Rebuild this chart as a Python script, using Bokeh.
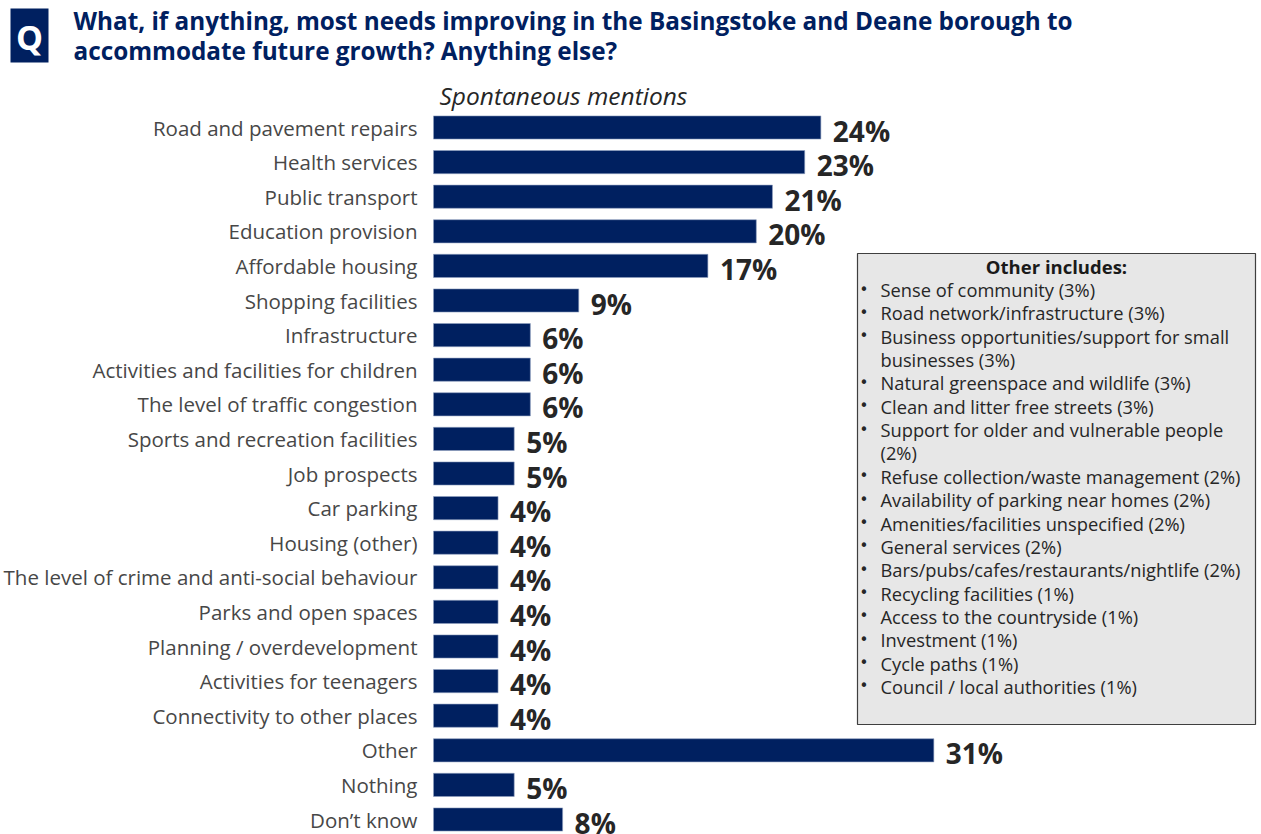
from bokeh.plotting import figure
from bokeh.models import Range1d, Label
from bokeh.core.properties import value
from bokeh.embed import file_html
from bokeh.resources import INLINE

# ---------------- data ----------------
categories = [
    "Road and pavement repairs", "Health services", "Public transport",
    "Education provision", "Affordable housing", "Shopping facilities",
    "Infrastructure", "Activities and facilities for children",
    "The level of traffic congestion", "Sports and recreation facilities",
    "Job prospects", "Car parking", "Housing (other)",
    "The level of crime and anti-social behaviour", "Parks and open spaces",
    "Planning / overdevelopment", "Activities for teenagers",
    "Connectivity to other places", "Other", "Nothing", "Don\u2019t know",
]
values = [24, 23, 21, 20, 17, 9, 6, 6, 6, 5, 5, 4, 4, 4, 4, 4, 4, 4, 31, 5, 8]

other_items = [
    ["Sense of community (3%)"],
    ["Road network/infrastructure (3%)"],
    ["Business opportunities/support  for small", "businesses (3%)"],
    ["Natural greenspace and wildlife (3%)"],
    ["Clean and litter free streets (3%)"],
    ["Support for older and vulnerable people", "(2%)"],
    ["Refuse collection/waste management (2%)"],
    ["Availability of parking near homes (2%)"],
    ["Amenities/facilities unspecified (2%)"],
    ["General services (2%)"],
    ["Bars/pubs/cafes/restaurants/nightlife  (2%)"],
    ["Recycling facilities (1%)"],
    ["Access to the countryside (1%)"],
    ["Investment (1%)"],
    ["Cycle paths (1%)"],
    ["Council / local authorities (1%)"],
]

title_lines = [
    "What, if anything, most needs improving in the Basingstoke and Deane borough to",
    "accommodate future growth? Anything else?",
]
subtitle = "Spontaneous mentions"
other_header = "Other includes:"

# ---------------- layout ----------------
W, H = 1261, 834
NAVY = "#002060"
FONT = "Open Sans"

X0_PX = 433.0     # canvas x of the 0% line
PX_PER = 16.14    # pixels per percent
ROW0 = 127.0      # canvas y of first row centre
ROW_STEP = 34.6

x_start = -X0_PX / PX_PER
x_end = x_start + W / PX_PER
y_top = -ROW0 / ROW_STEP
y_bottom = y_top + H / ROW_STEP


def X(cx):
    return x_start + cx / PX_PER


def Y(cy):
    return y_top + cy / ROW_STEP


p = figure(width=W, height=H, output_backend="svg", toolbar_location=None,
           x_range=Range1d(x_start, x_end), y_range=Range1d(y_bottom, y_top),
           min_border=0, min_border_left=0, min_border_right=0,
           min_border_top=0, min_border_bottom=0)
p.axis.visible = False
p.grid.visible = False
p.outline_line_color = None
p.background_fill_color = "white"
p.border_fill_color = "white"

rows = list(range(len(categories)))

# bars
p.hbar(y=rows, left=0, right=values, height=0.67, fill_color=NAVY,
       line_color="#8fa0c0", line_width=0.6)

# category labels
p.text(x=[X(417)] * len(rows), y=rows, text=categories, text_align="right",
       text_baseline="middle", text_font=value(FONT), text_font_size="20.5px",
       text_color="#474747")

# value labels
p.text(x=values, y=rows, text=[f"{v}%" for v in values], x_offset=12, y_offset=3,
       text_align="left", text_baseline="middle", text_font=value(FONT),
       text_font_size="28px", text_font_style="bold", text_color="#262626")

# Q box
p.quad(left=X(10), right=X(48), top=Y(8), bottom=Y(62), fill_color=NAVY, line_color=None)
p.add_layout(Label(x=X(29), y=Y(36), text="Q", text_align="center", text_baseline="middle",
                   text_font=FONT, text_font_size="34px", text_font_style="bold",
                   text_color="white"))

# title
for i, t in enumerate(title_lines):
    p.add_layout(Label(x=X(73), y=Y(20 + 30 * i), text=t, text_align="left",
                       text_baseline="middle", text_font=FONT, text_font_size="24.3px",
                       text_font_style="bold", text_color=NAVY))

# subtitle
p.add_layout(Label(x=X(439), y=Y(95), text=subtitle, text_align="left",
                   text_baseline="middle", text_font=FONT, text_font_size="24.5px",
                   text_font_style="italic", text_color="#262626"))

# other box
p.quad(left=X(857), right=X(1255), top=Y(253), bottom=Y(724),
       fill_color="#e7e7e7", line_color="#3f3f3f", line_width=1.2)
p.add_layout(Label(x=X(1056), y=Y(266), text=other_header, text_align="center",
                   text_baseline="middle", text_font=FONT, text_font_size="18.5px",
                   text_font_style="bold", text_color="#1a1a1a"))

line_texts, line_y, bullet_y = [], [], []
k = 0
for item in other_items:
    for j, ln in enumerate(item):
        cy = 289 + 23.35 * k
        line_texts.append(ln)
        line_y.append(Y(cy))
        if j == 0:
            bullet_y.append(Y(cy))
        k += 1

p.text(x=[X(880)] * len(line_texts), y=line_y, text=line_texts, text_align="left",
       text_baseline="middle", text_font=value(FONT), text_font_size="18.3px",
       text_color="#262626")
p.text(x=[X(859)] * len(bullet_y), y=bullet_y, text=["\u2022"] * len(bullet_y),
       text_align="left", text_baseline="middle", text_font=value("DejaVu Sans"),
       text_font_size="15px", text_color="#262626")

open("out.html", "w").write(file_html(p, INLINE))
